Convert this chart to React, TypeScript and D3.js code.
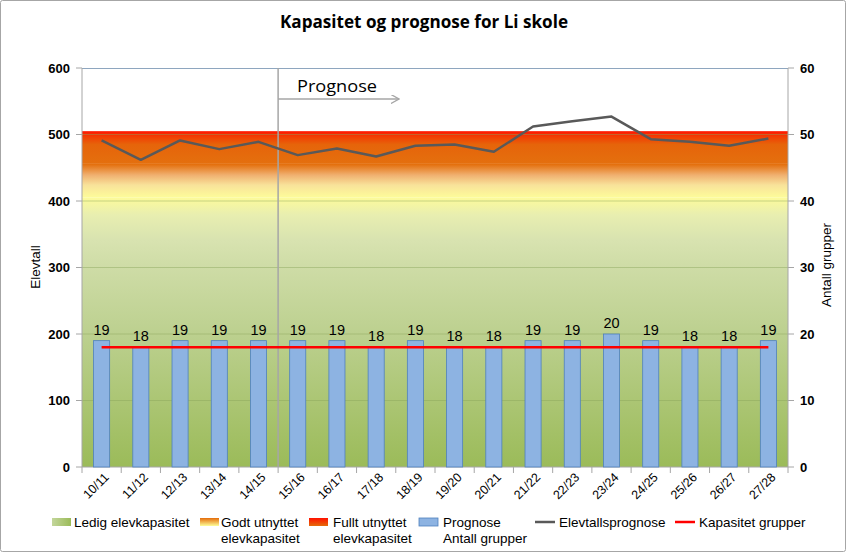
import React from "react";
import * as d3 from "d3";

const years = ["10/11","11/12","12/13","13/14","14/15","15/16","16/17","17/18","18/19","19/20","20/21","21/22","22/23","23/24","24/25","25/26","26/27","27/28"];
const students = [491,462,491,478,489,469,479,467,483,485,474,512,520,527,493,489,483,494];
const groups = [19,18,19,19,19,19,19,18,19,18,18,19,19,20,19,18,18,19];
const capacityGroups = [18,18,18,18,18,18,18,18,18,18,18,18,18,18,18,18,18,18];
const zoneNames = ["Ledig elevkapasitet","Godt utnyttet elevkapasitet","Fullt utnyttet elevkapasitet"];
const zoneSizes = [405, 52, 48];
const leftTicks = [0,100,200,300,400,500,600];
const rightTicks = [0,10,20,30,40,50,60];
const forecastStart = 5;

const W = 848, H = 554;
const L = 82, R = 788, T = 68, B = 467;
const font = "'Liberation Sans', Arial, sans-serif";

const bgStops: [number, string][] = [
  [0, "#9bbb59"], [200, "#bcd08f"], [300, "#cedca6"], [341, "#d8e3b0"], [379, "#e8eeb0"],
  [406, "#fdfb9a"], [424, "#f8e29a"], [439, "#f0b070"], [455, "#e4700e"], [485, "#e6640a"],
  [497, "#f23c03"], [505, "#ff1400"],
];

export default function App() {
  const x = d3.scaleBand<string>().domain(years).range([L, R]).paddingInner(0).paddingOuter(0);
  const yL = d3.scaleLinear().domain([0, 600]).range([B, T]);
  const yR = d3.scaleLinear().domain([0, 60]).range([B, T]);
  const cx = (i: number) => (x(years[i]) as number) + x.bandwidth() / 2;
  const barW = x.bandwidth() * 0.41;

  const stacks: [number, number][] = [];
  let acc = 0;
  zoneSizes.forEach((s) => { stacks.push([acc, acc + s]); acc += s; });
  const zTop = acc;

  const line = d3.line<number>().x((_, i) => cx(i)).y((d) => yL(d));
  const capLine = d3.line<number>().x((_, i) => cx(i)).y((d) => yR(d));
  const divX = x(years[forecastStart]) as number;

  const legend = [
    { kind: "z0", x: 52, tx: 74, lines: [zoneNames[0]] },
    { kind: "z1", x: 200, tx: 221, lines: ["Godt utnyttet", "elevkapasitet"] },
    { kind: "z2", x: 309, tx: 333, lines: ["Fullt utnyttet", "elevkapasitet"] },
    { kind: "bar", x: 419, tx: 443, lines: ["Prognose", "Antall grupper"] },
    { kind: "grey", x: 535, tx: 559, lines: ["Elevtallsprognose"] },
    { kind: "red", x: 675, tx: 699, lines: ["Kapasitet grupper"] },
  ];

  return (
    <svg width={W} height={H} style={{ position: "absolute", left: 0, top: 0, display: "block" }} fontFamily={font}>
      <defs>
        <linearGradient id="bg" gradientUnits="userSpaceOnUse" x1="0" y1={yL(0)} x2="0" y2={yL(zTop)}>
          {bgStops.map(([v, c], i) => <stop key={i} offset={v / zTop} stopColor={c} />)}
        </linearGradient>
        <linearGradient id="lz0" x1="0" y1="0" x2="1" y2="0">
          <stop offset="0" stopColor="#c3d69b" />
          <stop offset="1" stopColor="#9bbb59" />
        </linearGradient>
        <linearGradient id="lz1" x1="0" y1="1" x2="0" y2="0">
          <stop offset="0" stopColor="#fefe98" />
          <stop offset="1" stopColor="#e46c0a" />
        </linearGradient>
        <linearGradient id="lz2" x1="0" y1="1" x2="0" y2="0">
          <stop offset="0" stopColor="#e46c0a" />
          <stop offset="1" stopColor="#ff1000" />
        </linearGradient>
        <marker id="arr" viewBox="0 0 10 10" refX="9" refY="5" markerWidth="9" markerHeight="9" orient="auto" markerUnits="userSpaceOnUse">
          <path d="M0,0 L9,5 L0,10" fill="none" stroke="#a6a6a6" strokeWidth="1.5" />
        </marker>
      </defs>
      <rect x={0.5} y={0.5} width={W - 3} height={H - 3} fill="#fff" stroke="#a6a6a6" strokeWidth={1} rx={2} />

      <text x={424} y={28} textAnchor="middle" fontFamily="'Open Sans', sans-serif" fontWeight="bold" fontSize={17} textLength={288} lengthAdjust="spacingAndGlyphs">Kapasitet og prognose for Li skole</text>

      {/* zones */}
      {stacks.map((s, i) => (
        <rect key={i} x={L} width={R - L} y={yL(s[1])} height={yL(s[0]) - yL(s[1])} fill="url(#bg)" />
      ))}

      {/* gridlines */}
      {leftTicks.filter((t) => t > 0 && t < 600).map((t) => (
        <line key={t} x1={L} x2={R} y1={yL(t)} y2={yL(t)} stroke="#8aa35c" strokeOpacity={0.45} strokeWidth={1} />
      ))}
      <line x1={L} x2={R} y1={T + 0.5} y2={T + 0.5} stroke="#8ea6bf" strokeWidth={1} />

      {/* axes */}
      <line x1={L} x2={L} y1={T} y2={B} stroke="#a6a6a6" />
      <line x1={R} x2={R} y1={T} y2={B} stroke="#a6a6a6" />
      <line x1={L} x2={R} y1={B} y2={B} stroke="#a6a6a6" />
      {leftTicks.map((t) => (
        <g key={t}>
          <line x1={L - 6} x2={L} y1={yL(t)} y2={yL(t)} stroke="#a6a6a6" />
          <text x={70} y={yL(t) + 4.5} textAnchor="end" fontWeight="bold" fontSize={13}>{t}</text>
        </g>
      ))}
      {rightTicks.map((t) => (
        <g key={t}>
          <line x1={R} x2={R + 6} y1={yR(t)} y2={yR(t)} stroke="#a6a6a6" />
          <text x={800} y={yR(t) + 4.5} textAnchor="start" fontWeight="bold" fontSize={13}>{t}</text>
        </g>
      ))}
      {years.map((y, i) => (
        <line key={"t" + i} x1={x(y) as number} x2={x(y) as number} y1={B} y2={B + 6} stroke="#a6a6a6" />
      ))}
      <line x1={R} x2={R} y1={B} y2={B + 6} stroke="#a6a6a6" />
      {years.map((y, i) => (
        <text key={"l" + i} transform={`translate(${cx(i) + 8},${B + 11}) rotate(-45)`} textAnchor="end" fontSize={12.5}>{y}</text>
      ))}
      <text transform={`translate(40,267) rotate(-90)`} textAnchor="middle" fontSize={13.5}>Elevtall</text>
      <text transform={`translate(831,265) rotate(-90)`} textAnchor="middle" fontSize={13.5}>Antall grupper</text>

      {/* forecast divider */}
      <line x1={divX} x2={divX} y1={T} y2={B} stroke="#a6a6a6" strokeWidth={1.5} />
      <line x1={divX} x2={399} y1={99} y2={99} stroke="#a6a6a6" strokeWidth={1.5} markerEnd="url(#arr)" />
      <text x={297} y={92} fontFamily="'Open Sans', sans-serif" fontSize={17} textLength={80} lengthAdjust="spacingAndGlyphs">Prognose</text>

      {/* bars */}
      {groups.map((g, i) => (
        <g key={"b" + i}>
          <rect x={cx(i) - barW / 2} y={yR(g)} width={barW} height={B - yR(g)} fill="#8db3e2" stroke="#4f81bd" strokeWidth={0.8} />
          <text x={cx(i)} y={yR(g) - 6} textAnchor="middle" fontSize={14.5}>{g}</text>
        </g>
      ))}

      {/* capacity line */}
      <path d={capLine(capacityGroups) as string} fill="none" stroke="#ff0000" strokeWidth={2.5} />
      {/* students line */}
      <path d={line(students) as string} fill="none" stroke="#595959" strokeWidth={2.5} strokeLinejoin="round" />

      {/* legend */}
      {legend.map((it, i) => (
        <g key={"lg" + i}>
          {it.kind.startsWith("z") && (
            <rect x={it.x} y={518} width={19} height={8} fill={`url(#l${it.kind})`} />
          )}
          {it.kind === "bar" && <rect x={it.x} y={518} width={19} height={8} fill="#8db3e2" stroke="#4f81bd" strokeWidth={0.8} />}
          {it.kind === "grey" && <line x1={it.x} x2={it.x + 20} y1={522} y2={522} stroke="#595959" strokeWidth={2.5} />}
          {it.kind === "red" && <line x1={it.x} x2={it.x + 20} y1={522} y2={522} stroke="#ff0000" strokeWidth={2.5} />}
          {it.lines.map((t, j) => (
            <text key={j} x={it.tx} y={527 + j * 16} fontSize={13.5}>{t}</text>
          ))}
        </g>
      ))}
    </svg>
  );
}
